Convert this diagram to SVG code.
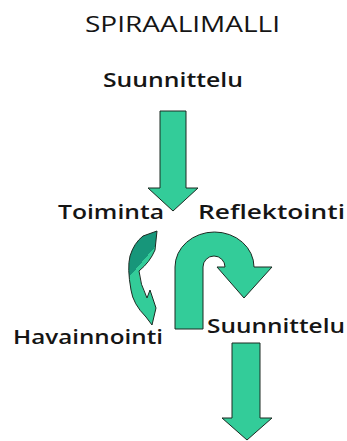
<svg xmlns="http://www.w3.org/2000/svg" width="347" height="441" viewBox="0 0 347 441">
  <defs>
    <style>
      .lbl { font-family: "Open Sans", "DejaVu Sans", sans-serif; font-weight: 600; fill: #151515; }
      .title { font-family: "Open Sans", "DejaVu Sans", sans-serif; font-weight: 400; fill: #151515; }
      .arr { fill: #33cc99; stroke: #1c2a22; stroke-width: 1; stroke-linejoin: miter; }
    </style>
    <linearGradient id="twoTone" x1="0" y1="0" x2="0.35" y2="1">
      <stop offset="0" stop-color="#17967a"/>
      <stop offset="0.44" stop-color="#17967a"/>
      <stop offset="0.44" stop-color="#33cc99"/>
      <stop offset="1" stop-color="#33cc99"/>
    </linearGradient>
  </defs>
  <rect width="347" height="441" fill="#ffffff"/>

  <g id="title">
    <text class="title" x="85" y="32" font-size="21" textLength="195" lengthAdjust="spacingAndGlyphs">SPIRAALIMALLI</text>
  </g>
  <g id="suunnittelu1">
    <text class="lbl" x="103" y="87" font-size="19" textLength="140" lengthAdjust="spacingAndGlyphs">Suunnittelu</text>
  </g>
  <g id="toiminta">
    <text class="lbl" x="58" y="219" font-size="19" textLength="106" lengthAdjust="spacingAndGlyphs">Toiminta</text>
  </g>
  <g id="reflektointi">
    <text class="lbl" x="198" y="219" font-size="19" textLength="147" lengthAdjust="spacingAndGlyphs">Reflektointi</text>
  </g>
  <g id="havainnointi">
    <text class="lbl" x="13" y="344" font-size="19" textLength="150" lengthAdjust="spacingAndGlyphs">Havainnointi</text>
  </g>
  <g id="suunnittelu2">
    <text class="lbl" x="207" y="333" font-size="19" textLength="138" lengthAdjust="spacingAndGlyphs">Suunnittelu</text>
  </g>

  <g id="connectors">
    <path class="arr" d="M160,111 L186,111 L186,188 L198,188 L173,211 L148,188 L160,188 Z"/>
    <path class="arr" style="fill:url(#twoTone)" d="M143,236 L157,231 L155,250 Q150,262 139,271 Q140,284 147,298 L150,290 L156,308 L152,325 L146,317 Q133,304 131,290 Q127,268 130,256 Q134,243 143,236 Z"/>
    <path class="arr" d="M175,329 L175,267 A39.5,35 0 0 1 254,267 L272,267 L244,298 L217,267 L225,267 A11,11 0 0 0 203,267 L203,329 Z"/>
    <path class="arr" d="M232,343 L260,343 L260,418 L272,418 L247,440 L222,418 L232,418 Z"/>
  </g>
</svg>
